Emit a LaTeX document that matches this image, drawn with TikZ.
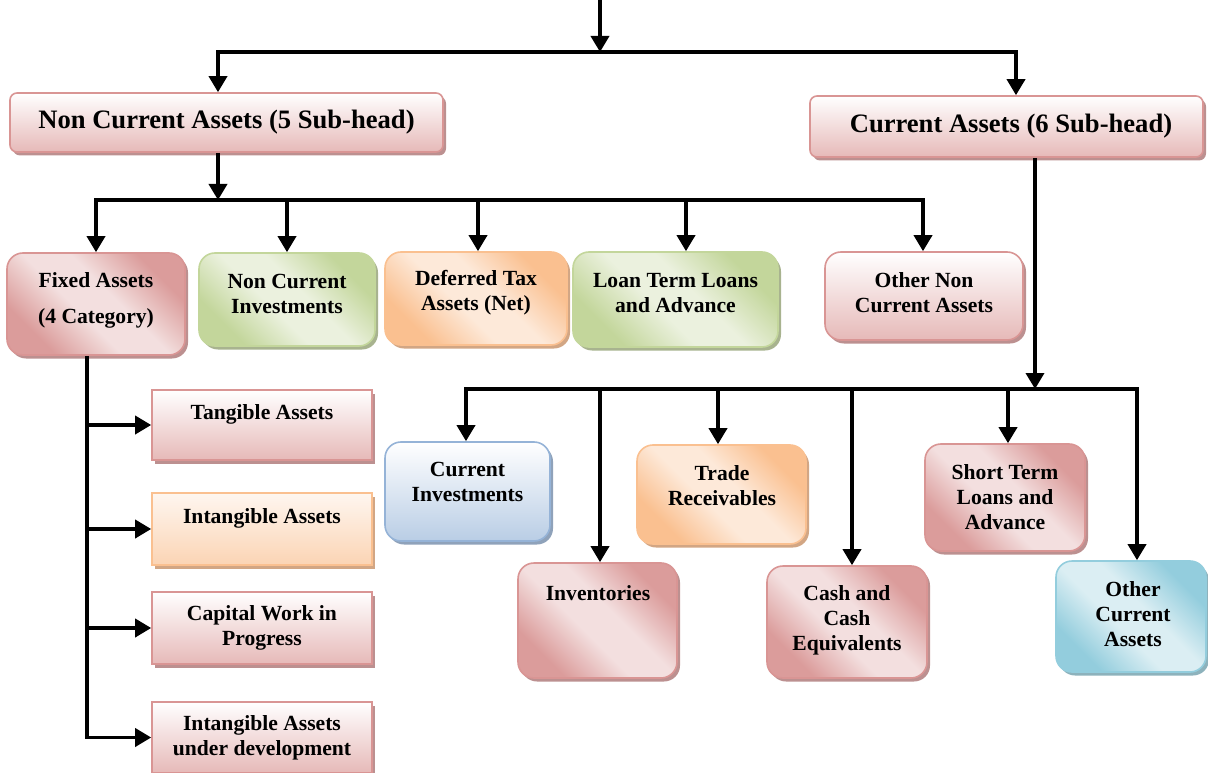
\documentclass[tikz,border=0pt]{standalone}
\usepackage{fontspec}
\setmainfont{Liberation Serif}
\usetikzlibrary{arrows.meta,shadows,shadings}

% palette
\definecolor{pkB}{HTML}{D99594}
\definecolor{pkD}{HTML}{DB9C9B}
\definecolor{pkL}{HTML}{F3DFDF}
\definecolor{pkV}{HTML}{E6B9B8}
\definecolor{pkS}{HTML}{BC9090}
\definecolor{grB}{HTML}{C3D69B}
\definecolor{grD}{HTML}{C3D69B}
\definecolor{grL}{HTML}{EBF1DE}
\definecolor{grS}{HTML}{A8B38F}
\definecolor{orB}{HTML}{FAC090}
\definecolor{orD}{HTML}{FAC090}
\definecolor{orL}{HTML}{FDE9D9}
\definecolor{orV}{HTML}{FBD4B4}
\definecolor{orS}{HTML}{D2A684}
\definecolor{blB}{HTML}{95B3D7}
\definecolor{blV}{HTML}{B9CDE5}
\definecolor{blS}{HTML}{8FA2BA}
\definecolor{cyB}{HTML}{93CDDD}
\definecolor{cyD}{HTML}{93CDDD}
\definecolor{cyL}{HTML}{DBEEF3}
\definecolor{cyS}{HTML}{8DB2BC}

% diagonal dark-light-dark fills
\pgfdeclarehorizontalshading{diagpk}{100bp}{color(0bp)=(pkD); color(27bp)=(pkD); color(44bp)=(pkL); color(56bp)=(pkL); color(73bp)=(pkD); color(100bp)=(pkD)}
\pgfdeclarehorizontalshading{diaggr}{100bp}{color(0bp)=(grD); color(27bp)=(grD); color(44bp)=(grL); color(56bp)=(grL); color(73bp)=(grD); color(100bp)=(grD)}
\pgfdeclarehorizontalshading{diagor}{100bp}{color(0bp)=(orD); color(27bp)=(orD); color(44bp)=(orL); color(56bp)=(orL); color(73bp)=(orD); color(100bp)=(orD)}
\pgfdeclarehorizontalshading{diagcy}{100bp}{color(0bp)=(cyD); color(27bp)=(cyD); color(44bp)=(cyL); color(56bp)=(cyL); color(73bp)=(cyD); color(100bp)=(cyD)}

\tikzset{
  box/.style={draw, line width=1.6pt, inner sep=0pt},
  sh/.style={drop shadow={shadow xshift=3pt, shadow yshift=-3.5pt, fill=#1, opacity=1}},
  pkdiag/.style={box, draw=pkB, shade, shading=diagpk, shading angle=45, sh=pkS},
  grdiag/.style={box, draw=grB, shade, shading=diaggr, shading angle=45, sh=grS},
  ordiag/.style={box, draw=orB, shade, shading=diagor, shading angle=45, sh=orS},
  cydiag/.style={box, draw=cyB, shade, shading=diagcy, shading angle=45, sh=cyS},
  pkvert/.style={box, draw=pkB, top color=white, bottom color=pkV, sh=pkS},
  orvert/.style={box, draw=orB, top color=orL!40!white, bottom color=orV, sh=orS},
  blvert/.style={box, draw=blB, top color=white, bottom color=blV, sh=blS},
  big/.style={font=\fontsize{26.6}{30}\selectfont\bfseries, align=center, inner sep=0pt},
  small/.style={font=\fontsize{21.6}{25}\selectfont\bfseries, align=center, inner sep=0pt},
  conn/.style={line width=3.6pt, -{Triangle[length=16pt,width=18pt]}},
}

\begin{document}
\begin{tikzpicture}[x=1pt,y=-1pt]
\useasboundingbox (0,0) rectangle (1208,773);

% main heads
\node[pkvert, rounded corners=7pt, minimum width=433pt, minimum height=59pt] (nca) at (226.5,122.5) {};
\node[pkvert, rounded corners=7pt, minimum width=393pt, minimum height=61pt] (ca) at (1006.5,126.5) {};
\node[big] (ncaT) at (226.5,122) {Non Current Assets (5 Sub-head)};
\node[big] (caT) at (1011,126) {Current Assets (6 Sub-head)};

% non current sub-heads
\node[pkdiag, rounded corners=16pt, minimum width=178pt, minimum height=102pt] (fa) at (96,304) {};
\node[grdiag, rounded corners=16pt, minimum width=176pt, minimum height=93pt] (nci) at (287,299.5) {};
\node[ordiag, rounded corners=16pt, minimum width=182pt, minimum height=93pt] (dta) at (476,298.5) {};
\node[grdiag, rounded corners=16pt, minimum width=205pt, minimum height=95pt] (ltl) at (675.5,299.5) {};
\node[pkvert, rounded corners=16pt, minimum width=198pt, minimum height=88pt] (onca) at (924,296) {};
\node[small] (faT) at (96,300) {Fixed Assets\\[11pt](4 Category)};
\node[small] (nciT) at (287,294) {Non Current\\Investments};
\node[small] (dtaT) at (476,293) {Deferred Tax\\Assets (Net)};
\node[small] (ltlT) at (675.5,293) {Loan Term Loans\\and Advance};
\node[small] (oncaT) at (924,293) {Other Non\\Current Assets};

% fixed asset categories
\node[pkvert, minimum width=220pt, minimum height=70pt] (tan) at (262,425) {};
\node[orvert, minimum width=220pt, minimum height=72pt] (int) at (262,529) {};
\node[pkvert, minimum width=220pt, minimum height=72pt] (cwip) at (262,628) {};
\node[pkvert, minimum width=220pt, minimum height=71pt] (iad) at (262,737.5) {};
\node[small] (tanT) at (262,414) {Tangible Assets};
\node[small] (intT) at (262,518) {Intangible Assets};
\node[small] (cwipT) at (262,628) {Capital Work in\\Progress};
\node[small] (iadT) at (262,737.5) {Intangible Assets\\under development};

% current sub-heads
\node[blvert, rounded corners=16pt, minimum width=165pt, minimum height=99pt] (ci) at (467.5,491.5) {};
\node[ordiag, rounded corners=16pt, minimum width=169pt, minimum height=99pt] (tr) at (721.5,494.5) {};
\node[pkdiag, rounded corners=16pt, minimum width=160pt, minimum height=107pt] (st) at (1005,497.5) {};
\node[pkdiag, rounded corners=16pt, minimum width=159pt, minimum height=115pt] (inv) at (597.5,620.5) {};
\node[pkdiag, rounded corners=16pt, minimum width=160pt, minimum height=112pt] (cash) at (847,622) {};
\node[cydiag, rounded corners=16pt, minimum width=150pt, minimum height=111pt] (oca) at (1131,616.5) {};
\node[small] (ciT) at (467.5,481.5) {Current\\Investments};
\node[small] (trT) at (722,485.5) {Trade\\Receivables};
\node[small] (stT) at (1005,497.5) {Short Term\\Loans and\\Advance};
\node[small] (invT) at (598,593) {Inventories};
\node[small] (cashT) at (847,620) {Cash and\\Cash\\Equivalents};
\node[small] (ocaT) at (1133,614.5) {Other\\Current\\Assets};

% top split
\coordinate (src) at (600,0);
\coordinate (j0) at (600,52);
\coordinate (j0L) at (218,52);
\coordinate (j0R) at (1016,52);
\draw[conn] (j0) -| (j0L |- nca.north);
\draw[conn] (j0) -| (j0R |- ca.north);
\draw[conn] (src) -- (j0);

% non current assets bus
\coordinate (j1) at (218,200);
\coordinate (p1) at (96,200);
\coordinate (p2) at (287,200);
\coordinate (p3) at (478,200);
\coordinate (p4) at (686,200);
\coordinate (p5) at (923,200);
\draw[conn] (j1) -| (p1 |- fa.north);
\draw[conn] (j1) -| (p5 |- onca.north);
\draw[conn] (p2) -- (p2 |- nci.north);
\draw[conn] (p3) -- (p3 |- dta.north);
\draw[conn] (p4) -- (p4 |- ltl.north);
\draw[conn] (j1 |- nca.south) -- (j1);

% current assets bus
\coordinate (j2) at (1035,389);
\coordinate (q1) at (466,389);
\coordinate (q2) at (600,389);
\coordinate (q3) at (718,389);
\coordinate (q4) at (852,389);
\coordinate (q5) at (1008,389);
\coordinate (q6) at (1137,389);
\draw[conn] (j2) -| (q1 |- ci.north);
\draw[conn] (j2) -| (q6 |- oca.north);
\draw[conn] (q2) -- (q2 |- inv.north);
\draw[conn] (q3) -- (q3 |- tr.north);
\draw[conn] (q4) -- (q4 |- cash.north);
\draw[conn] (q5) -- (q5 |- st.north);
\draw[conn] (j2 |- ca.south) -- (j2);

% fixed assets categories
\coordinate (fx) at (87,0);
\draw[conn] (fx |- fa.south) |- (iad.west);
\draw[conn] (fx |- tan.west) -- (tan.west);
\draw[conn] (fx |- int.west) -- (int.west);
\draw[conn] (fx |- cwip.west) -- (cwip.west);
\end{tikzpicture}
\end{document}
